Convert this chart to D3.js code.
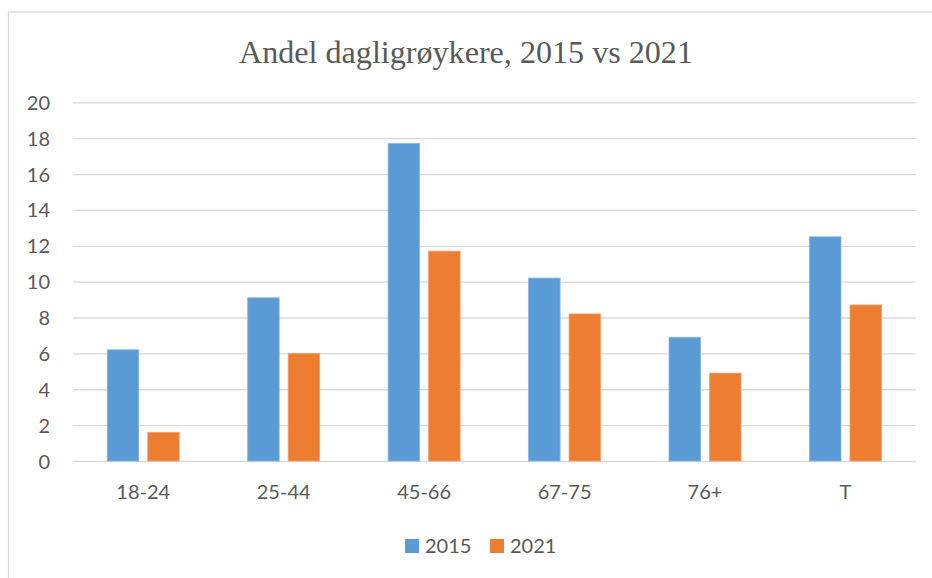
<!DOCTYPE html>
<html>
<head>
<meta charset="utf-8">
<script src="https://cdn.jsdelivr.net/npm/d3@7"></script>
<style>
  html, body { margin: 0; padding: 0; background: #ffffff; }
  svg { display: block; }
</style>
</head>
<body>
<svg id="chart" width="932" height="578"></svg>
<script>
const categories = ["18-24", "25-44", "45-66", "67-75", "76+", "T"];
const seriesNames = ["2015", "2021"];
const values2015 = [6.2, 9.1, 17.7, 10.2, 6.9, 12.5];
const values2021 = [1.6, 6.0, 11.7, 8.2, 4.9, 8.7];
const yTicks = [0, 2, 4, 6, 8, 10, 12, 14, 16, 18, 20];
const titleText = "Andel dagligrøykere, 2015 vs 2021";

const colors = { "2015": "#5b9bd5", "2021": "#ed7d31" };
const strokes = { "2015": "#86b5e2", "2021": "#f3a06b" };
const textColor = "#595959";
const gridColor = "#d9d9d9";
const labelFont = "Lato, 'Open Sans', sans-serif";

const svg = d3.select("#chart");

// chart border (only top and left edges visible in the frame)
svg.append("rect")
  .attr("x", 8.5).attr("y", 12)
  .attr("width", 1000).attr("height", 1000)
  .attr("fill", "none")
  .attr("stroke", gridColor)
  .attr("stroke-width", 1.3);

const plot = { left: 73, right: 915.7, top: 102.3, bottom: 461 };

const x = d3.scaleBand()
  .domain(categories)
  .range([plot.left, plot.right])
  .paddingInner(0.4873)
  .paddingOuter(0.2437);

const xs = d3.scaleBand()
  .domain(seriesNames)
  .range([0, x.bandwidth()])
  .paddingInner(0.222);

const y = d3.scaleLinear()
  .domain([0, 20])
  .range([plot.bottom, plot.top]);

// gridlines
const yAxis = d3.axisLeft(y).tickValues(yTicks).tickSize(0).tickPadding(0).tickFormat(d3.format("d"));
const yg = svg.append("g").attr("transform", `translate(${plot.left},0)`).call(yAxis);
yg.select(".domain").remove();
yg.selectAll(".tick line")
  .attr("x1", 0).attr("x2", plot.right - plot.left)
  .attr("stroke", gridColor).attr("stroke-width", 1.3);
yg.selectAll(".tick text")
  .attr("x", 50 - plot.left)
  .attr("dy", "0.35em")
  .attr("text-anchor", "end")
  .attr("fill", textColor)
  .style("font-family", labelFont)
  .style("font-size", "20px");

// bars
const data = categories.map((c, i) => ({
  cat: c,
  vals: [{ s: "2015", v: values2015[i] }, { s: "2021", v: values2021[i] }]
}));

const groups = svg.append("g").selectAll("g")
  .data(data).join("g")
  .attr("transform", d => `translate(${x(d.cat)},0)`);

groups.selectAll("rect")
  .data(d => d.vals).join("rect")
  .attr("x", d => xs(d.s))
  .attr("width", xs.bandwidth())
  .attr("y", d => y(d.v))
  .attr("height", d => y(0) - y(d.v))
  .attr("fill", d => colors[d.s])
  .attr("stroke", d => strokes[d.s])
  .attr("stroke-width", 0.8);

// x axis labels
const xAxis = d3.axisBottom(x).tickSize(0).tickPadding(0);
const xg = svg.append("g").attr("transform", `translate(0,${plot.bottom})`).call(xAxis);
xg.select(".domain").remove();
xg.selectAll(".tick text")
  .attr("y", 38)
  .attr("dy", 0)
  .attr("fill", textColor)
  .style("font-family", labelFont)
  .style("font-size", "20px");

// title
const title = svg.append("text")
  .attr("x", 466)
  .attr("y", 63)
  .attr("text-anchor", "middle")
  .attr("fill", textColor)
  .style("font-family", "'Liberation Serif', 'DejaVu Serif', serif")
  .style("font-size", "34px")
  .text(titleText);
const tw = title.node().getComputedTextLength();
title.style("font-size", (34 * 454 / tw).toFixed(2) + "px");

// legend
const legendX = [405, 490];
const legend = svg.append("g").selectAll("g")
  .data(seriesNames).join("g")
  .attr("transform", (d, i) => `translate(${legendX[i]},539)`);
legend.append("rect")
  .attr("width", 14).attr("height", 14)
  .attr("fill", d => colors[d]);
legend.append("text")
  .attr("x", 20).attr("y", 13.5)
  .attr("fill", textColor)
  .style("font-family", labelFont)
  .style("font-size", "20px")
  .text(d => d);
</script>
</body>
</html>
